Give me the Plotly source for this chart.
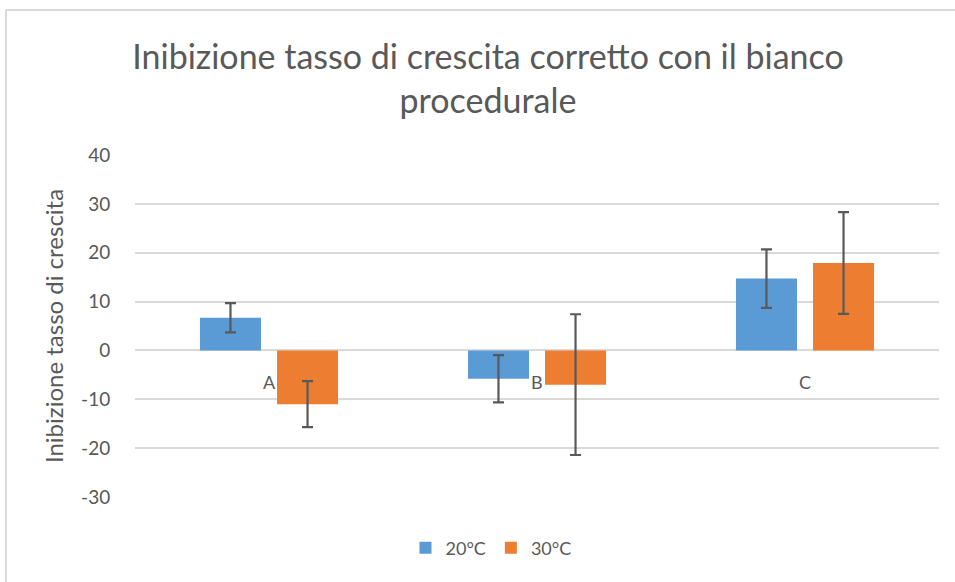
import plotly.graph_objects as go

categories = ["A", "B", "C"]
series_names = ["20°C", "30°C"]
values_20 = [6.7, -5.8, 14.7]
errors_20 = [3.0, 4.85, 6.0]
values_30 = [-11.0, -7.0, 17.9]
errors_30 = [4.7, 14.4, 10.4]
y_ticks = [-30, -20, -10, 0, 10, 20, 30, 40]

colors = ["#5B9BD5", "#ED7D31"]
text_gray = "#595959"
font_family = "Lato, 'Open Sans', sans-serif"

W, H = 955, 582
left, right, top, bottom = 135, 939, 155, 497


def px_x(p):
    return (p - left) / (right - left)


def px_y(p):
    return (bottom - p) / (bottom - top)


fig = go.Figure()
for name, vals, errs, color in [(series_names[0], values_20, errors_20, colors[0]),
                                (series_names[1], values_30, errors_30, colors[1])]:
    fig.add_trace(go.Bar(
        x=categories,
        y=vals,
        name=name,
        marker=dict(color=color, line=dict(width=0)),
        error_y=dict(type="data", array=errs, visible=True,
                     color=text_gray, thickness=2.2, width=5.5),
    ))

# category labels sit at the zero line like in Excel
for cat in categories:
    fig.add_annotation(x=cat, y=0, text=cat, showarrow=False,
                       yanchor="top", yshift=-19,
                       font=dict(size=18, color=text_gray, family=font_family))

# chart frame (top and left edges visible)
fig.add_shape(type="line", xref="paper", yref="paper",
              x0=px_x(6), x1=px_x(960), y0=px_y(10), y1=px_y(10),
              line=dict(color="#D9D9D9", width=2))
fig.add_shape(type="line", xref="paper", yref="paper",
              x0=px_x(6), x1=px_x(6), y0=px_y(10), y1=px_y(590),
              line=dict(color="#D9D9D9", width=2))

fig.update_layout(
    width=W, height=H,
    margin=dict(l=left, r=W - right, t=top, b=H - bottom, pad=0),
    paper_bgcolor="white",
    plot_bgcolor="white",
    barmode="group",
    bargap=0.425,
    bargroupgap=0.208,
    title=dict(
        text="Inibizione tasso di crescita corretto con il bianco<br>procedurale",
        xref="container", x=488 / W, xanchor="center",
        yref="container", y=1 - 69 / H, yanchor="middle",
        font=dict(size=34, color=text_gray, family=font_family),
    ),
    font=dict(family=font_family, color=text_gray),
    legend=dict(
        orientation="h",
        x=px_x(491), xanchor="center",
        y=px_y(548), yanchor="middle",
        font=dict(size=18, color=text_gray),
        itemwidth=30,
    ),
    xaxis=dict(showticklabels=False, showgrid=False, zeroline=False,
               showline=False, ticks=""),
    yaxis=dict(
        range=[-30, 40],
        tickvals=y_ticks,
        ticktext=[str(v) for v in y_ticks],
        showgrid=True, gridcolor="#D9D9D9", gridwidth=2,
        zeroline=False, showline=False,
        ticks="outside", ticklen=20, tickcolor="rgba(0,0,0,0)",
        tickfont=dict(size=19, color=text_gray),
        title=dict(text="Inibizione tasso di crescita",
                   font=dict(size=24, color=text_gray), standoff=10),
    ),
)

fig.write_html("out.html", config={"displayModeBar": False},
               post_script="document.body.style.margin='0';")
